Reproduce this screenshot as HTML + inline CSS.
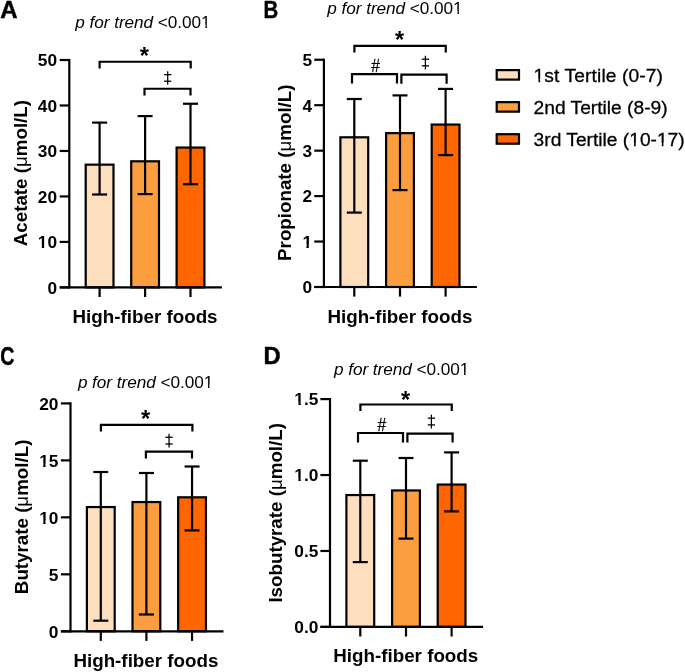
<!DOCTYPE html>
<html><head><meta charset="utf-8"><style>
html,body{margin:0;padding:0;background:#fff;}
svg{display:block;will-change:transform;}
text{font-family:"Liberation Sans",sans-serif;fill:#000;}
</style></head><body>
<svg width="685" height="672" viewBox="0 0 685 672">
<rect x="0" y="0" width="685" height="672" fill="#fff"/>
<g stroke="#000" stroke-linecap="butt" stroke-linejoin="miter">
<rect x="85.70" y="164.65" width="27.80" height="122.75" fill="#FDDFBF" stroke-width="2.2"/>
<rect x="131.20" y="161.30" width="27.80" height="126.10" fill="#FC9E3F" stroke-width="2.2"/>
<rect x="176.60" y="147.55" width="27.80" height="139.85" fill="#FF6600" stroke-width="2.2"/>
<line x1="99.60" y1="194.50" x2="99.60" y2="122.60" stroke-width="2.2"/>
<line x1="92.10" y1="194.50" x2="107.10" y2="194.50" stroke-width="2.2"/>
<line x1="92.10" y1="122.60" x2="107.10" y2="122.60" stroke-width="2.2"/>
<line x1="145.10" y1="194.10" x2="145.10" y2="116.10" stroke-width="2.2"/>
<line x1="137.60" y1="194.10" x2="152.60" y2="194.10" stroke-width="2.2"/>
<line x1="137.60" y1="116.10" x2="152.60" y2="116.10" stroke-width="2.2"/>
<line x1="190.50" y1="184.20" x2="190.50" y2="103.75" stroke-width="2.2"/>
<line x1="183.00" y1="184.20" x2="198.00" y2="184.20" stroke-width="2.2"/>
<line x1="183.00" y1="103.75" x2="198.00" y2="103.75" stroke-width="2.2"/>
<line x1="69.30" y1="58.90" x2="69.30" y2="288.50" stroke-width="2.2"/>
<line x1="59.70" y1="287.40" x2="221.90" y2="287.40" stroke-width="2.2"/>
<line x1="59.70" y1="287.40" x2="69.30" y2="287.40" stroke-width="2.2"/>
<text stroke="none" x="57.00" y="293.70" font-size="17.3" font-weight="bold" text-anchor="end" >0</text>
<line x1="59.70" y1="241.92" x2="69.30" y2="241.92" stroke-width="2.2"/>
<text stroke="none" x="57.00" y="248.22" font-size="17.3" font-weight="bold" text-anchor="end" >10</text>
<line x1="59.70" y1="196.44" x2="69.30" y2="196.44" stroke-width="2.2"/>
<text stroke="none" x="57.00" y="202.74" font-size="17.3" font-weight="bold" text-anchor="end" >20</text>
<line x1="59.70" y1="150.96" x2="69.30" y2="150.96" stroke-width="2.2"/>
<text stroke="none" x="57.00" y="157.26" font-size="17.3" font-weight="bold" text-anchor="end" >30</text>
<line x1="59.70" y1="105.48" x2="69.30" y2="105.48" stroke-width="2.2"/>
<text stroke="none" x="57.00" y="111.78" font-size="17.3" font-weight="bold" text-anchor="end" >40</text>
<line x1="59.70" y1="60.00" x2="69.30" y2="60.00" stroke-width="2.2"/>
<text stroke="none" x="57.00" y="66.30" font-size="17.3" font-weight="bold" text-anchor="end" >50</text>
<line x1="99.60" y1="287.40" x2="99.60" y2="297.00" stroke-width="2.2"/>
<line x1="145.10" y1="287.40" x2="145.10" y2="297.00" stroke-width="2.2"/>
<line x1="190.50" y1="287.40" x2="190.50" y2="297.00" stroke-width="2.2"/>
<path d="M99.60,68.50 V61.75 H190.70 V68.50" stroke-width="2.2" fill="none"/>
<path d="M144.50,95.50 V88.75 H190.50 V95.50" stroke-width="2.2" fill="none"/>
<text stroke="none" x="144.40" y="64.10" font-size="23.5" font-weight="bold" text-anchor="middle" >*</text>
<line x1="167.70" y1="71.30" x2="167.70" y2="84.70" stroke-width="1.25"/>
<line x1="164.10" y1="74.65" x2="171.30" y2="74.65" stroke-width="1.3"/>
<line x1="164.10" y1="81.22" x2="171.30" y2="81.22" stroke-width="1.3"/>
<text stroke="none" x="75.30" y="27.50" font-size="17.2" font-weight="normal" text-anchor="start" letter-spacing="-0.05"><tspan font-style="italic">p for trend</tspan> &lt;0.001</text>
<text stroke="none" x="72.55" y="323.40" font-size="18.8" font-weight="bold" text-anchor="start" >High-fiber foods</text>
<text stroke="none" x="0" y="0" font-size="18.75" font-weight="bold" text-anchor="middle" transform="translate(26.70,173.10) rotate(-90)">Acetate (<tspan font-weight="normal">&#956;</tspan>mol/L)</text>
<text stroke="none" x="0" y="0" font-size="24" font-weight="bold" style="stroke:#000;stroke-width:0.45px" transform="translate(0.30,18.35) scale(1.0,1)">A</text>
<rect x="340.40" y="137.30" width="27.80" height="149.70" fill="#FDDFBF" stroke-width="2.2"/>
<rect x="386.10" y="133.15" width="27.80" height="153.85" fill="#FC9E3F" stroke-width="2.2"/>
<rect x="431.70" y="124.55" width="27.80" height="162.45" fill="#FF6600" stroke-width="2.2"/>
<line x1="354.30" y1="212.60" x2="354.30" y2="99.00" stroke-width="2.2"/>
<line x1="346.80" y1="212.60" x2="361.80" y2="212.60" stroke-width="2.2"/>
<line x1="346.80" y1="99.00" x2="361.80" y2="99.00" stroke-width="2.2"/>
<line x1="400.00" y1="190.10" x2="400.00" y2="95.40" stroke-width="2.2"/>
<line x1="392.50" y1="190.10" x2="407.50" y2="190.10" stroke-width="2.2"/>
<line x1="392.50" y1="95.40" x2="407.50" y2="95.40" stroke-width="2.2"/>
<line x1="445.60" y1="155.10" x2="445.60" y2="88.90" stroke-width="2.2"/>
<line x1="438.10" y1="155.10" x2="453.10" y2="155.10" stroke-width="2.2"/>
<line x1="438.10" y1="88.90" x2="453.10" y2="88.90" stroke-width="2.2"/>
<line x1="323.90" y1="58.65" x2="323.90" y2="288.10" stroke-width="2.2"/>
<line x1="314.30" y1="287.00" x2="476.90" y2="287.00" stroke-width="2.2"/>
<line x1="314.30" y1="287.00" x2="323.90" y2="287.00" stroke-width="2.2"/>
<text stroke="none" x="312.00" y="293.30" font-size="17.3" font-weight="bold" text-anchor="end" >0</text>
<line x1="314.30" y1="241.55" x2="323.90" y2="241.55" stroke-width="2.2"/>
<text stroke="none" x="312.00" y="247.85" font-size="17.3" font-weight="bold" text-anchor="end" >1</text>
<line x1="314.30" y1="196.10" x2="323.90" y2="196.10" stroke-width="2.2"/>
<text stroke="none" x="312.00" y="202.40" font-size="17.3" font-weight="bold" text-anchor="end" >2</text>
<line x1="314.30" y1="150.65" x2="323.90" y2="150.65" stroke-width="2.2"/>
<text stroke="none" x="312.00" y="156.95" font-size="17.3" font-weight="bold" text-anchor="end" >3</text>
<line x1="314.30" y1="105.20" x2="323.90" y2="105.20" stroke-width="2.2"/>
<text stroke="none" x="312.00" y="111.50" font-size="17.3" font-weight="bold" text-anchor="end" >4</text>
<line x1="314.30" y1="59.75" x2="323.90" y2="59.75" stroke-width="2.2"/>
<text stroke="none" x="312.00" y="66.05" font-size="17.3" font-weight="bold" text-anchor="end" >5</text>
<line x1="354.30" y1="287.00" x2="354.30" y2="296.60" stroke-width="2.2"/>
<line x1="400.00" y1="287.00" x2="400.00" y2="296.60" stroke-width="2.2"/>
<line x1="445.60" y1="287.00" x2="445.60" y2="296.60" stroke-width="2.2"/>
<path d="M354.40,52.50 V45.80 H445.75 V52.50" stroke-width="2.2" fill="none"/>
<path d="M352.00,83.50 V74.20 H397.00 V83.50" stroke-width="2.2" fill="none"/>
<path d="M401.40,83.70 V74.60 H446.60 V83.70" stroke-width="2.2" fill="none"/>
<text stroke="none" x="399.50" y="48.20" font-size="23.5" font-weight="bold" text-anchor="middle" >*</text>
<text stroke="none" x="0" y="0" font-size="18.3" text-anchor="middle" style="stroke:#000;stroke-width:0.25px" transform="translate(375.50,71.90) scale(0.86,1)">#</text>
<line x1="425.40" y1="55.80" x2="425.40" y2="69.40" stroke-width="1.25"/>
<line x1="421.80" y1="59.20" x2="429.00" y2="59.20" stroke-width="1.3"/>
<line x1="421.80" y1="65.86" x2="429.00" y2="65.86" stroke-width="1.3"/>
<text stroke="none" x="327.30" y="13.50" font-size="17.2" font-weight="normal" text-anchor="start" letter-spacing="-0.05"><tspan font-style="italic">p for trend</tspan> &lt;0.001</text>
<text stroke="none" x="327.40" y="322.50" font-size="18.8" font-weight="bold" text-anchor="start" >High-fiber foods</text>
<text stroke="none" x="0" y="0" font-size="18.75" font-weight="bold" text-anchor="middle" transform="translate(291.20,172.70) rotate(-90)">Propionate (<tspan font-weight="normal">&#956;</tspan>mol/L)</text>
<text stroke="none" x="0" y="0" font-size="24" font-weight="bold" style="stroke:#000;stroke-width:0.45px" transform="translate(263.60,18.30) scale(0.85,1)">B</text>
<rect x="86.90" y="507.05" width="27.80" height="124.25" fill="#FDDFBF" stroke-width="2.2"/>
<rect x="132.50" y="502.05" width="27.80" height="129.25" fill="#FC9E3F" stroke-width="2.2"/>
<rect x="178.15" y="497.30" width="27.80" height="134.00" fill="#FF6600" stroke-width="2.2"/>
<line x1="100.80" y1="620.70" x2="100.80" y2="472.00" stroke-width="2.2"/>
<line x1="93.30" y1="620.70" x2="108.30" y2="620.70" stroke-width="2.2"/>
<line x1="93.30" y1="472.00" x2="108.30" y2="472.00" stroke-width="2.2"/>
<line x1="146.40" y1="614.50" x2="146.40" y2="473.00" stroke-width="2.2"/>
<line x1="138.90" y1="614.50" x2="153.90" y2="614.50" stroke-width="2.2"/>
<line x1="138.90" y1="473.00" x2="153.90" y2="473.00" stroke-width="2.2"/>
<line x1="192.05" y1="530.40" x2="192.05" y2="466.50" stroke-width="2.2"/>
<line x1="184.55" y1="530.40" x2="199.55" y2="530.40" stroke-width="2.2"/>
<line x1="184.55" y1="466.50" x2="199.55" y2="466.50" stroke-width="2.2"/>
<line x1="70.50" y1="402.30" x2="70.50" y2="632.40" stroke-width="2.2"/>
<line x1="60.90" y1="631.30" x2="223.50" y2="631.30" stroke-width="2.2"/>
<line x1="60.90" y1="631.30" x2="70.50" y2="631.30" stroke-width="2.2"/>
<text stroke="none" x="58.40" y="637.60" font-size="17.3" font-weight="bold" text-anchor="end" >0</text>
<line x1="60.90" y1="574.32" x2="70.50" y2="574.32" stroke-width="2.2"/>
<text stroke="none" x="58.40" y="580.62" font-size="17.3" font-weight="bold" text-anchor="end" >5</text>
<line x1="60.90" y1="517.35" x2="70.50" y2="517.35" stroke-width="2.2"/>
<text stroke="none" x="58.40" y="523.65" font-size="17.3" font-weight="bold" text-anchor="end" >10</text>
<line x1="60.90" y1="460.38" x2="70.50" y2="460.38" stroke-width="2.2"/>
<text stroke="none" x="58.40" y="466.68" font-size="17.3" font-weight="bold" text-anchor="end" >15</text>
<line x1="60.90" y1="403.40" x2="70.50" y2="403.40" stroke-width="2.2"/>
<text stroke="none" x="58.40" y="409.70" font-size="17.3" font-weight="bold" text-anchor="end" >20</text>
<line x1="100.80" y1="631.30" x2="100.80" y2="640.90" stroke-width="2.2"/>
<line x1="146.40" y1="631.30" x2="146.40" y2="640.90" stroke-width="2.2"/>
<line x1="192.05" y1="631.30" x2="192.05" y2="640.90" stroke-width="2.2"/>
<path d="M100.90,431.50 V424.80 H192.40 V431.50" stroke-width="2.2" fill="none"/>
<path d="M145.90,458.50 V451.70 H192.00 V458.50" stroke-width="2.2" fill="none"/>
<text stroke="none" x="145.65" y="427.30" font-size="23.5" font-weight="bold" text-anchor="middle" >*</text>
<line x1="169.05" y1="433.80" x2="169.05" y2="447.60" stroke-width="1.25"/>
<line x1="165.45" y1="437.25" x2="172.65" y2="437.25" stroke-width="1.3"/>
<line x1="165.45" y1="444.01" x2="172.65" y2="444.01" stroke-width="1.3"/>
<text stroke="none" x="77.90" y="387.50" font-size="17.2" font-weight="normal" text-anchor="start" letter-spacing="-0.05"><tspan font-style="italic">p for trend</tspan> &lt;0.001</text>
<text stroke="none" x="73.40" y="666.50" font-size="18.8" font-weight="bold" text-anchor="start" >High-fiber foods</text>
<text stroke="none" x="0" y="0" font-size="18.75" font-weight="bold" text-anchor="middle" transform="translate(28.00,516.85) rotate(-90)">Butyrate (<tspan font-weight="normal">&#956;</tspan>mol/L)</text>
<text stroke="none" x="0" y="0" font-size="25.3" font-weight="bold" style="stroke:#000;stroke-width:0.45px" transform="translate(0.35,364.60) scale(0.775,1)">C</text>
<rect x="346.40" y="495.05" width="27.80" height="131.85" fill="#FDDFBF" stroke-width="2.2"/>
<rect x="392.10" y="490.45" width="27.80" height="136.45" fill="#FC9E3F" stroke-width="2.2"/>
<rect x="437.70" y="484.55" width="27.80" height="142.35" fill="#FF6600" stroke-width="2.2"/>
<line x1="360.30" y1="562.10" x2="360.30" y2="460.70" stroke-width="2.2"/>
<line x1="352.80" y1="562.10" x2="367.80" y2="562.10" stroke-width="2.2"/>
<line x1="352.80" y1="460.70" x2="367.80" y2="460.70" stroke-width="2.2"/>
<line x1="406.00" y1="538.60" x2="406.00" y2="458.00" stroke-width="2.2"/>
<line x1="398.50" y1="538.60" x2="413.50" y2="538.60" stroke-width="2.2"/>
<line x1="398.50" y1="458.00" x2="413.50" y2="458.00" stroke-width="2.2"/>
<line x1="451.60" y1="511.40" x2="451.60" y2="452.40" stroke-width="2.2"/>
<line x1="444.10" y1="511.40" x2="459.10" y2="511.40" stroke-width="2.2"/>
<line x1="444.10" y1="452.40" x2="459.10" y2="452.40" stroke-width="2.2"/>
<line x1="330.00" y1="398.00" x2="330.00" y2="628.00" stroke-width="2.2"/>
<line x1="320.40" y1="626.90" x2="483.10" y2="626.90" stroke-width="2.2"/>
<line x1="320.40" y1="626.90" x2="330.00" y2="626.90" stroke-width="2.2"/>
<text stroke="none" x="318.40" y="633.20" font-size="17.3" font-weight="bold" text-anchor="end" >0.0</text>
<line x1="320.40" y1="550.97" x2="330.00" y2="550.97" stroke-width="2.2"/>
<text stroke="none" x="318.40" y="557.27" font-size="17.3" font-weight="bold" text-anchor="end" >0.5</text>
<line x1="320.40" y1="475.03" x2="330.00" y2="475.03" stroke-width="2.2"/>
<text stroke="none" x="318.40" y="481.33" font-size="17.3" font-weight="bold" text-anchor="end" >1.0</text>
<line x1="320.40" y1="399.10" x2="330.00" y2="399.10" stroke-width="2.2"/>
<text stroke="none" x="318.40" y="405.40" font-size="17.3" font-weight="bold" text-anchor="end" >1.5</text>
<line x1="360.30" y1="626.90" x2="360.30" y2="636.50" stroke-width="2.2"/>
<line x1="406.00" y1="626.90" x2="406.00" y2="636.50" stroke-width="2.2"/>
<line x1="451.60" y1="626.90" x2="451.60" y2="636.50" stroke-width="2.2"/>
<path d="M360.40,411.00 V404.50 H451.75 V411.00" stroke-width="2.2" fill="none"/>
<path d="M358.00,442.50 V433.00 H403.00 V442.50" stroke-width="2.2" fill="none"/>
<path d="M407.40,442.50 V433.70 H452.60 V442.50" stroke-width="2.2" fill="none"/>
<text stroke="none" x="405.50" y="407.80" font-size="23.5" font-weight="bold" text-anchor="middle" >*</text>
<text stroke="none" x="0" y="0" font-size="18.3" text-anchor="middle" style="stroke:#000;stroke-width:0.25px" transform="translate(381.80,431.30) scale(0.86,1)">#</text>
<line x1="431.40" y1="414.70" x2="431.40" y2="428.50" stroke-width="1.25"/>
<line x1="427.80" y1="418.15" x2="435.00" y2="418.15" stroke-width="1.3"/>
<line x1="427.80" y1="424.91" x2="435.00" y2="424.91" stroke-width="1.3"/>
<text stroke="none" x="334.00" y="375.30" font-size="17.2" font-weight="normal" text-anchor="start" letter-spacing="-0.05"><tspan font-style="italic">p for trend</tspan> &lt;0.001</text>
<text stroke="none" x="333.25" y="661.75" font-size="18.8" font-weight="bold" text-anchor="start" >High-fiber foods</text>
<text stroke="none" x="0" y="0" font-size="18.75" font-weight="bold" text-anchor="middle" transform="translate(282.40,512.80) rotate(-90)">Isobutyrate (<tspan font-weight="normal">&#956;</tspan>mol/L)</text>
<text stroke="none" x="0" y="0" font-size="24" font-weight="bold" style="stroke:#000;stroke-width:0.45px" transform="translate(263.50,364.20) scale(0.99,1)">D</text>
<rect x="496.7" y="70.10" width="22.3" height="9.5" fill="#FDDFBF" stroke-width="2.2"/>
<text stroke="none" x="533.60" y="81.90" font-size="19.2" font-weight="normal" text-anchor="start" style="stroke:#000;stroke-width:0.3px" letter-spacing="0.11">1st Tertile (0-7)</text>
<rect x="496.7" y="102.15" width="22.3" height="9.5" fill="#FC9E3F" stroke-width="2.2"/>
<text stroke="none" x="533.60" y="113.95" font-size="19.2" font-weight="normal" text-anchor="start" style="stroke:#000;stroke-width:0.3px">2nd Tertile (8-9)</text>
<rect x="496.7" y="134.20" width="22.3" height="9.5" fill="#FF6600" stroke-width="2.2"/>
<text stroke="none" x="533.60" y="146.00" font-size="19.2" font-weight="normal" text-anchor="start" style="stroke:#000;stroke-width:0.3px">3rd Tertile (10-17)</text>
</g>
<g stroke="none">
<rect x="37.66" y="244.95" width="4.15" height="4.47" fill="#fff"/>
<rect x="44.18" y="244.95" width="3.63" height="4.47" fill="#fff"/>
<rect x="201.16" y="24.72" width="4.22" height="3.98" fill="#fff"/>
<rect x="206.90" y="24.72" width="4.08" height="3.98" fill="#fff"/>
<rect x="302.26" y="244.58" width="4.15" height="4.47" fill="#fff"/>
<rect x="308.79" y="244.58" width="3.63" height="4.47" fill="#fff"/>
<rect x="453.16" y="10.72" width="4.22" height="3.98" fill="#fff"/>
<rect x="458.90" y="10.72" width="4.08" height="3.98" fill="#fff"/>
<rect x="39.06" y="520.38" width="4.15" height="4.47" fill="#fff"/>
<rect x="45.58" y="520.38" width="3.63" height="4.47" fill="#fff"/>
<rect x="39.06" y="463.41" width="4.15" height="4.47" fill="#fff"/>
<rect x="45.58" y="463.41" width="3.63" height="4.47" fill="#fff"/>
<rect x="203.76" y="384.72" width="4.22" height="3.98" fill="#fff"/>
<rect x="209.50" y="384.72" width="4.08" height="3.98" fill="#fff"/>
<rect x="294.26" y="478.06" width="4.15" height="4.47" fill="#fff"/>
<rect x="300.78" y="478.06" width="3.63" height="4.47" fill="#fff"/>
<rect x="294.26" y="402.13" width="4.15" height="4.47" fill="#fff"/>
<rect x="300.78" y="402.13" width="3.63" height="4.47" fill="#fff"/>
<rect x="459.86" y="372.52" width="4.22" height="3.98" fill="#fff"/>
<rect x="465.60" y="372.52" width="4.08" height="3.98" fill="#fff"/>
<rect x="533.86" y="78.97" width="4.57" height="4.13" fill="#fff"/>
<rect x="540.12" y="78.97" width="4.42" height="4.13" fill="#fff"/>
<rect x="629.47" y="143.07" width="4.57" height="4.13" fill="#fff"/>
<rect x="635.73" y="143.07" width="4.42" height="4.13" fill="#fff"/>
<rect x="657.21" y="143.07" width="4.57" height="4.13" fill="#fff"/>
<rect x="663.47" y="143.07" width="4.42" height="4.13" fill="#fff"/>
</g>
</svg>
</body></html>
